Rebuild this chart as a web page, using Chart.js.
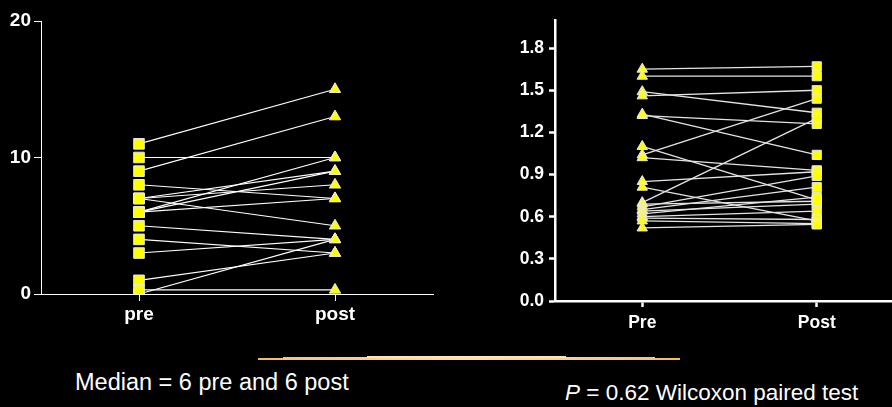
<!DOCTYPE html>
<html>
<head>
<meta charset="utf-8">
<script src="https://cdn.jsdelivr.net/npm/chart.js@4.4.1/dist/chart.umd.min.js"></script>
<style>
  html, body { margin: 0; padding: 0; background: #000; width: 892px; height: 407px; overflow: hidden; }
  #wrapL { position: absolute; left: 0; top: 0; width: 450px; height: 340px; }
  #wrapR { position: absolute; left: 500px; top: 0; width: 420px; height: 340px; }
  .note { position: absolute; color: #fff; font-family: "Liberation Sans", Arial, sans-serif; white-space: nowrap; line-height: 1; }
  .rule { position: absolute; }
</style>
</head>
<body>
<div id="wrapL"><canvas id="left"></canvas></div>
<div id="wrapR"><canvas id="right"></canvas></div>

<div class="rule" style="left:258px;top:358px;width:422px;height:2px;background:linear-gradient(to right,#f2bb62,#fcd896 50%,#f2bb62);"></div>
<div class="rule" style="left:283px;top:357px;width:372px;height:3px;background:linear-gradient(to right,#f5c576,#fde0a6 50%,#f5c576);"></div>
<div class="rule" style="left:367px;top:356px;width:199px;height:2px;background:#fde6b4;"></div>

<div class="note" style="left:75px;top:371px;font-size:23.5px;">Median = 6 pre and 6 post</div>
<div class="note" style="left:565px;top:382px;font-size:22.5px;"><i>P</i> = 0.62 Wilcoxon paired test</div>

<script>
// left panel
const leftCats = ['pre', 'post'];
const leftPre  = [11, 10, 9, 8, 7, 7, 7, 6, 6, 6, 5, 4, 3, 1, 0, 0.3];
const leftPost = [15, 10, 13, 7, 9, 8, 5, 10, 9, 7, 4, 3, 4, 3, 4, 0.3];
const leftTicks = [0, 10, 20];

// right panel
const rightCats = ['Pre', 'Post'];
const rightPre  = [1.65, 1.60, 1.49, 1.46, 1.32, 1.33, 1.10, 1.04, 1.02, 0.85, 0.81, 0.70, 0.69, 0.67, 0.65, 0.64, 0.62, 0.60, 0.59, 0.57, 0.52];
const rightPost = [1.67, 1.60, 1.34, 1.50, 1.26, 1.04, 0.72, 1.44, 0.93, 0.92, 0.57, 1.30, 0.71, 0.89, 0.81, 0.69, 0.74, 0.64, 0.58, 0.55, 0.545];
const rightTicks = [0, 0.3, 0.6, 0.9, 1.2, 1.5, 1.8];

const FONT = '"Liberation Sans", Arial, sans-serif';
Chart.defaults.color = '#fff';

function pairedChart(id, o) {
  const datasets = [];
  // one line per subject
  o.pre.forEach((v, i) => {
    datasets.push({
      data: [v, o.post[i]],
      borderColor: o.lineColor,
      borderWidth: o.lineWidth,
      pointRadius: 0,
      order: 2
    });
  });
  // markers on top
  datasets.push({
    data: o.pre.map(v => ({ x: o.cats[0], y: v })),
    showLine: false,
    pointStyle: o.styles[0],
    pointRadius: o.radii[0],
    pointBackgroundColor: '#ffff00',
    pointBorderColor: '#e8e8e8',
    pointBorderWidth: 1,
    order: 1
  });
  datasets.push({
    data: o.post.map(v => ({ x: o.cats[1], y: v })),
    showLine: false,
    pointStyle: o.styles[1],
    pointRadius: o.radii[1],
    pointBackgroundColor: '#ffff00',
    pointBorderColor: '#e8e8e8',
    pointBorderWidth: 1,
    order: 1
  });

  return new Chart(document.getElementById(id), {
    type: 'line',
    data: { labels: o.cats, datasets: datasets },
    options: {
      responsive: true,
      maintainAspectRatio: false,
      animation: false,
      events: [],
      layout: { padding: o.padding },
      plugins: { legend: { display: false }, tooltip: { enabled: false } },
      scales: {
        x: {
          type: 'category',
          offset: true,
          grid: { display: true, offset: false, drawOnChartArea: false, drawTicks: true,
                  tickLength: o.tickLen, tickColor: '#fff', tickWidth: o.axisWidth },
          border: { display: true, color: '#fff', width: o.axisWidth },
          ticks: { color: '#fff', padding: o.xPad, font: { family: FONT, size: o.fontSize, weight: 'bold' } },
          afterFit: s => { s.height = o.xHeight; }
        },
        y: {
          min: o.yMin, max: o.yMax,
          afterBuildTicks: s => { s.ticks = o.ticks.map(v => ({ value: v })); },
          grid: { display: true, drawOnChartArea: false, drawTicks: true,
                  tickLength: o.tickLen, tickColor: '#fff', tickWidth: o.axisWidth },
          border: { display: true, color: '#fff', width: o.axisWidth },
          ticks: { color: '#fff', padding: o.yPad, font: { family: FONT, size: o.fontSize, weight: 'bold' },
                   callback: v => o.fmt(v) },
          afterFit: s => { s.width = o.yWidth; }
        }
      }
    }
  });
}

pairedChart('left', {
  cats: leftCats, pre: leftPre, post: leftPost, ticks: leftTicks,
  yMin: 0, yMax: 20, fmt: v => String(v),
  styles: ['rect', 'triangle'], radii: [7.5, 6.5],
  lineColor: '#ffffff', lineWidth: 1.1, axisWidth: 1,
  tickLen: 7, xPad: 2, yPad: 3, fontSize: 19,
  xHeight: 46, yWidth: 41,
  padding: { top: 21, right: 17, left: 0, bottom: 0 }
});

pairedChart('right', {
  cats: rightCats, pre: rightPre, post: rightPost, ticks: rightTicks,
  yMin: 0, yMax: 2.0, fmt: v => v.toFixed(1),
  styles: ['triangle', 'rect'], radii: [6, 6.5],
  lineColor: '#e4e4e4', lineWidth: 1.3, axisWidth: 2.5,
  tickLen: 6, xPad: 6, yPad: 5, fontSize: 17.5,
  xHeight: 39, yWidth: 55,
  padding: { top: 20, right: 16, left: 0, bottom: 0 }
});
</script>
</body>
</html>
